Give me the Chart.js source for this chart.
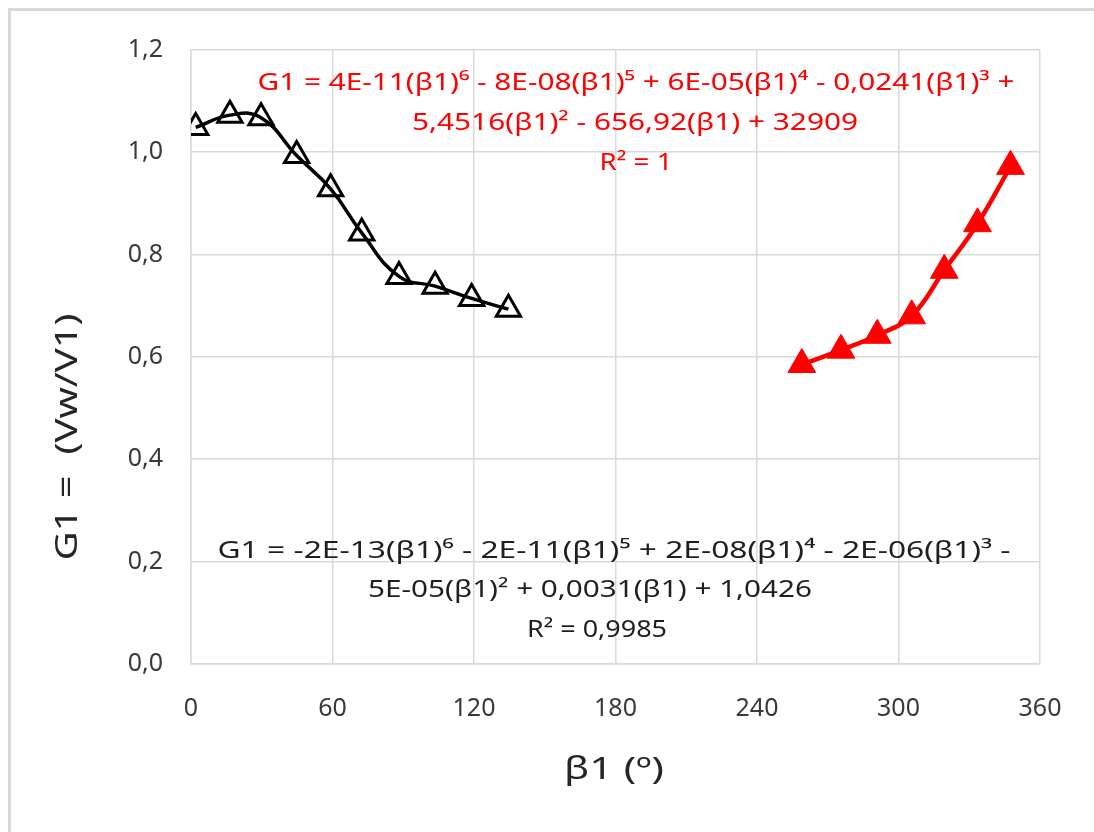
<!DOCTYPE html>
<html>
<head>
<meta charset="utf-8">
<script src="https://cdn.jsdelivr.net/npm/chart.js@4.4.0/dist/chart.umd.min.js"></script>
<style>
  html, body { margin: 0; padding: 0; background: #ffffff; }
  #wrap { position: relative; width: 1094px; height: 832px; }
  canvas { display: block; }
</style>
</head>
<body>
<div id="wrap"><canvas id="c" width="1094" height="832"></canvas></div>
<script>
// ---- data ----
const seriesABeta = [2, 16.5, 29.7, 44.8, 59.2, 72.4, 88.2, 103.5, 119, 134.6];
const seriesAG1   = [1.048, 1.072, 1.067, 0.993, 0.928, 0.842, 0.757, 0.738, 0.714, 0.693];
const seriesBBeta = [259, 275.6, 291, 305.6, 319.4, 333.5, 347.5];
const seriesBG1   = [0.585, 0.613, 0.642, 0.680, 0.769, 0.860, 0.972];

const xTickValues = [0, 60, 120, 180, 240, 300, 360];
const xTickLabels = ['0', '60', '120', '180', '240', '300', '360'];
const yTickValues = [0, 0.2, 0.4, 0.6, 0.8, 1.0, 1.2];
const yTickLabels = ['0,0', '0,2', '0,4', '0,6', '0,8', '1,0', '1,2'];

const xTitle = 'β1 (º)';
const yTitle = 'G1 =  (Vw/V1)';
const redEquation = [
  'G1 = 4E-11(β1)⁶ - 8E-08(β1)⁵ + 6E-05(β1)⁴ - 0,0241(β1)³ +',
  '5,4516(β1)² - 656,92(β1) + 32909',
  'R² = 1'
];
const blackEquation = [
  'G1 = -2E-13(β1)⁶ - 2E-11(β1)⁵ + 2E-08(β1)⁴ - 2E-06(β1)³ -',
  '5E-05(β1)² + 0,0031(β1) + 1,0426',
  'R² = 0,9985'
];

const toXY = (xs, ys) => xs.map((x, i) => ({ x: x, y: ys[i] }));

const FONT = "'Noto Sans', 'Open Sans', sans-serif";
const GRID = '#d9d9d9';

// text drawn with a horizontal squeeze to match the reference's narrow face
function drawFitted(ctx, text, cx, cy, targetW, size, color) {
  ctx.save();
  ctx.font = size + 'px ' + FONT;
  ctx.fillStyle = color;
  ctx.textAlign = 'center';
  ctx.textBaseline = 'middle';
  const w = ctx.measureText(text).width;
  const sx = targetW / w;
  ctx.translate(cx, cy);
  ctx.scale(sx, 1);
  ctx.fillText(text, 0, 0);
  ctx.restore();
}

const annotations = {
  id: 'annotations',
  beforeDraw(chart) {
    const ctx = chart.ctx;
    ctx.save();
    ctx.fillStyle = '#ffffff';
    ctx.fillRect(0, 0, chart.width, chart.height);
    ctx.strokeStyle = '#d9d9d9';
    ctx.lineWidth = 3;
    ctx.beginPath();
    ctx.moveTo(9.5, chart.height);
    ctx.lineTo(9.5, 9.5);
    ctx.lineTo(chart.width, 9.5);
    ctx.stroke();
    ctx.restore();
  },
  afterDraw(chart) {
    const ctx = chart.ctx;
    const redW = [757, 446, 73];
    const redY = [83, 123, 163];
    const redX = [636, 635, 636];
    redEquation.forEach((t, i) => drawFitted(ctx, t, redX[i], redY[i], redW[i], 24, '#ff0000'));
    const blkW = [793, 444, 140];
    const blkY = [551, 590, 630];
    const blkX = [614, 590, 597];
    blackEquation.forEach((t, i) => drawFitted(ctx, t, blkX[i], blkY[i], blkW[i], 24, '#1f1f1f'));
    drawFitted(ctx, xTitle, 614, 770, 100, 31, '#262626');
    ctx.save();
    ctx.translate(68, 437);
    ctx.rotate(-Math.PI / 2);
    drawFitted(ctx, yTitle, 0, 0, 247, 31, '#262626');
    ctx.restore();
  }
};

new Chart(document.getElementById('c'), {
  type: 'scatter',
  data: {
    datasets: [
      {
        data: toXY(seriesABeta, seriesAG1),
        showLine: true,
        tension: 0.45,
        borderColor: '#000000',
        borderWidth: 3.5,
        pointStyle: 'triangle',
        pointRadius: 14,
        pointHoverRadius: 14,
        pointBorderWidth: 3,
        pointBorderColor: '#000000',
        pointBackgroundColor: 'rgba(0,0,0,0)'
      },
      {
        data: toXY(seriesBBeta, seriesBG1),
        showLine: true,
        tension: 0.4,
        borderColor: '#ff0000',
        borderWidth: 4.5,
        pointStyle: 'triangle',
        pointRadius: 16,
        pointHoverRadius: 16,
        pointBorderWidth: 1,
        pointBorderColor: '#ff0000',
        pointBackgroundColor: '#ff0000'
      }
    ]
  },
  options: {
    responsive: false,
    animation: false,
    events: [],
    layout: { padding: { left: 0, right: 54, top: 49.6, bottom: 0 } },
    plugins: { legend: { display: false }, tooltip: { enabled: false } },
    scales: {
      x: {
        type: 'linear',
        min: 0, max: 360,
        afterBuildTicks(scale) { scale.ticks = xTickValues.map(v => ({ value: v })); },
        afterFit(scale) { scale.height = 832 - 664; },
        grid: { color: GRID, lineWidth: 1.5, drawTicks: false },
        border: { color: GRID, width: 1.5 },
        ticks: {
          padding: 30,
          color: '#3a3a3a',
          font: { family: FONT, size: 25 },
          callback: (v) => { const i = xTickValues.indexOf(v); return i >= 0 ? xTickLabels[i] : ''; }
        }
      },
      y: {
        type: 'linear',
        min: 0, max: 1.2,
        afterBuildTicks(scale) { scale.ticks = yTickValues.map(v => ({ value: v })); },
        afterFit(scale) { scale.width = 191; },
        grid: { color: GRID, lineWidth: 1.5, drawTicks: false },
        border: { color: GRID, width: 1.5 },
        ticks: {
          padding: 28,
          color: '#3a3a3a',
          font: { family: FONT, size: 25 },
          callback: (v) => {
            const i = yTickValues.findIndex(t => Math.abs(t - v) < 1e-9);
            return i >= 0 ? yTickLabels[i] : '';
          }
        }
      }
    }
  },
  plugins: [annotations]
});
</script>
</body>
</html>
